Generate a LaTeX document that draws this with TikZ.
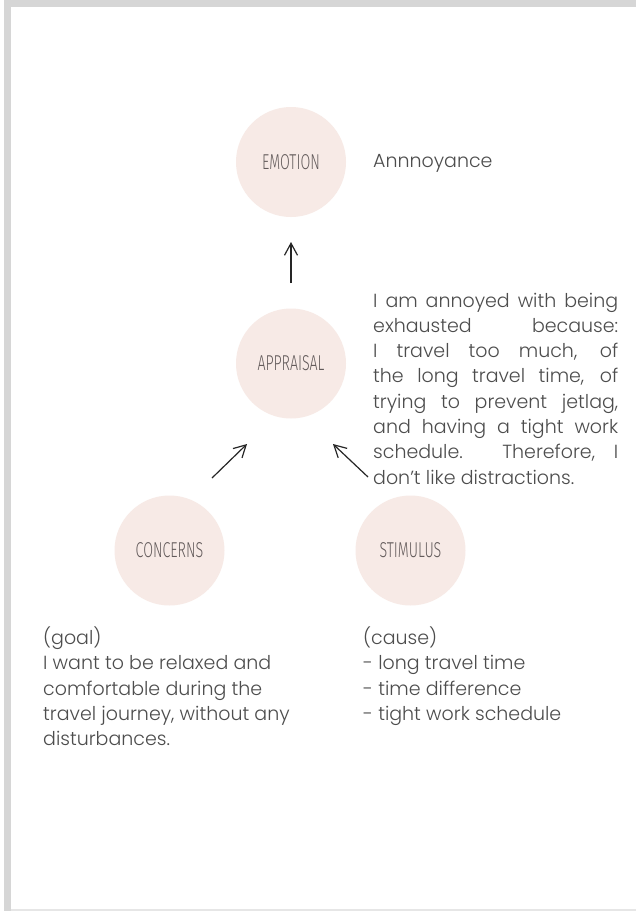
\documentclass[tikz,border=0pt]{standalone}
\usepackage{fontspec}
\setmainfont{Poppins}[UprightFont={* Light}]
\newfontfamily\labelfont{Fira Sans Light}[FakeStretch=0.66]
\usetikzlibrary{arrows.meta}

\definecolor{bandgray}{HTML}{D6D6D6}
\definecolor{rulegray}{HTML}{E6E6E6}
\definecolor{blush}{HTML}{F7EAE6}
\definecolor{labelgray}{HTML}{625A5A}
\definecolor{textgray}{HTML}{4D4D4D}
\definecolor{arrowink}{HTML}{262626}

\hbadness=10000

\tikzset{
  stage/.style={circle, fill=blush, minimum size=110pt, inner sep=0pt,
    text=labelgray, font=\labelfont\fontsize{21.5}{21.5}\selectfont},
  bodytext/.style={inner sep=0pt, text=textgray,
    font=\fontsize{19}{25.3}\selectfont},
  flow/.style={draw=arrowink, line width=1.2pt,
    -{Straight Barb[length=12pt, width=13pt]}}
}

\begin{document}
\begin{tikzpicture}[x=1pt, y=-1pt]
  % page and frame
  \useasboundingbox (0,0) rectangle (636,911);
  \fill[white] (0,0) rectangle (636,911);
  \fill[bandgray] (4,0) rectangle (636,7);
  \fill[bandgray] (4,0) rectangle (11,911);
  \fill[rulegray] (11,909) rectangle (636,911);

  % the four stages
  \node[stage] (emotion)   at (291,162)   {EMOTION};
  \node[stage] (appraisal) at (291,363.5) {APPRAISAL};
  \node[stage] (concerns)  at (169.5,550.5) {CONCERNS};
  \node[stage] (stimulus)  at (410.5,550.5) {STIMULUS};

  % descriptions
  \node[bodytext, anchor=base west] (feeling) at (373,167) {Annnoyance};

  \node[bodytext, anchor=base west] (reason) at (373,307)
    {\parbox[t]{245pt}{I am annoyed with being\linebreak
     exhausted because:\linebreak
     I travel too much, of\linebreak
     the long travel time, of\linebreak
     trying to prevent jetlag,\linebreak
     and having a tight work\linebreak
     schedule. Therefore, I\linebreak
     don’t like distractions.}};

  \node[bodytext, anchor=base west] (goal) at (43,644.5)
    {\parbox[t]{280pt}{\raggedright (goal)\\
     I want to be relaxed and\\
     comfortable during the\\
     travel journey, without any\\
     disturbances.}};

  \node[bodytext, anchor=base west] (cause) at (363,644.5)
    {\parbox[t]{260pt}{\raggedright (cause)\\
     - long travel time\\
     - time difference\\
     - tight work schedule}};

  % arrow end points
  \coordinate (upfrom) at (291,283);
  \coordinate (upto)   at (291,242);
  \coordinate (lfrom)  at (212,478);
  \coordinate (lto)    at (247,444);
  \coordinate (rfrom)  at (368,477);
  \coordinate (rto)    at (333,444);

  \draw[flow] (upfrom) -- (upto);
  \draw[flow] (lfrom) -- (lto);
  \draw[flow] (rfrom) -- (rto);
\end{tikzpicture}
\end{document}
